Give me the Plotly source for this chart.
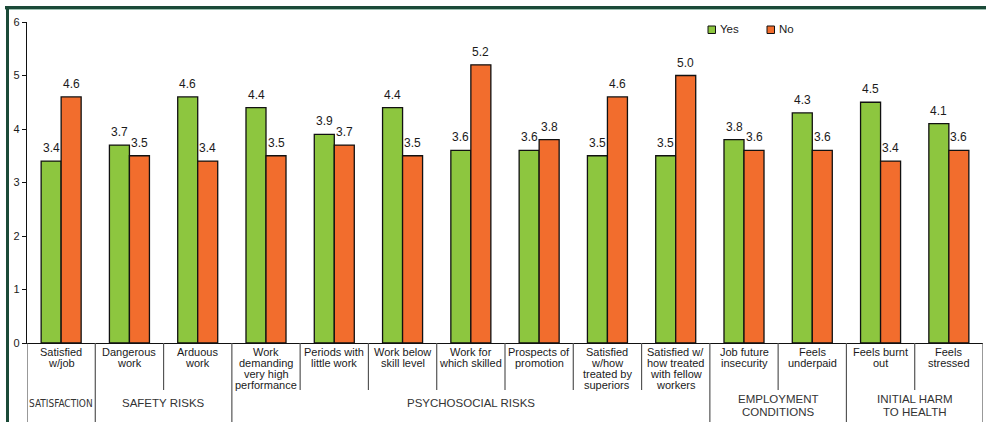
import plotly.graph_objects as go

# Category labels (one entry per line of text), scores and group headings
categories = [
    ["Satisfied", "w/job"],
    ["Dangerous", "work"],
    ["Arduous", "work"],
    ["Work", "demanding", "very high", "performance"],
    ["Periods with", "little work"],
    ["Work below", "skill level"],
    ["Work for", "which skilled"],
    ["Prospects of", "promotion"],
    ["Satisfied", "w/how", "treated by", "superiors"],
    ["Satisfied w/", "how treated", "with fellow", "workers"],
    ["Job future", "insecurity"],
    ["Feels", "underpaid"],
    ["Feels burnt", "out"],
    ["Feels", "stressed"],
]
yes_values = [3.4, 3.7, 4.6, 4.4, 3.9, 4.4, 3.6, 3.6, 3.5, 3.5, 3.8, 4.3, 4.5, 4.1]
no_values = [4.6, 3.5, 3.4, 3.5, 3.7, 3.5, 5.2, 3.8, 4.6, 5.0, 3.6, 3.6, 3.4, 3.6]
series_names = ["Yes", "No"]
group_names = [["SATISFACTION"], ["SAFETY RISKS"], ["PSYCHOSOCIAL RISKS"],
               ["EMPLOYMENT", "CONDITIONS"], ["INITIAL HARM", "TO HEALTH"]]
group_first = [0, 1, 3, 10, 12]
group_last = [0, 2, 9, 11, 13]
y_ticks = [0, 1, 2, 3, 4, 5, 6]

GREEN = "#8dc63f"
ORANGE = "#f26d2d"
TEXT = "#1a1a1a"
FONT = "Liberation Sans, Arial, sans-serif"

W, H = 986, 422
ML, MR, MT, MB = 27, 3, 22, 79
PW, PH = W - ML - MR, H - MT - MB


def px_x(p):
    return (p - ML) / PW


def px_y(p):
    return (H - MB - p) / PH


x = list(range(len(categories)))
colors = [GREEN, ORANGE]

fig = go.Figure()
for name, vals, col in zip(series_names, [yes_values, no_values], colors):
    fig.add_trace(go.Bar(x=x, y=vals, name=name, marker_color=col,
                         marker_line=dict(color="#111111", width=1.3)))

annotations = []
shapes = []

# value labels above each bar
for i in x:
    for vals, dx in ((yes_values, -10), (no_values, 10)):
        annotations.append(dict(x=i, y=vals[i], xref="x", yref="y", text=f"{vals[i]:.1f}",
                                showarrow=False, xshift=dx, yshift=13, yanchor="middle",
                                font=dict(size=12, color=TEXT, family=FONT)))

# category labels under the axis, one annotation per line for tight spacing
for i, lines in enumerate(categories):
    for k, line in enumerate(lines):
        annotations.append(dict(x=i, y=0, xref="x", yref="paper", text=line,
                                showarrow=False, yanchor="middle",
                                yshift=-(9 + 10.9 * k),
                                font=dict(size=11, color=TEXT, family=FONT)))

# group headings
for name, a, b in zip(group_names, group_first, group_last):
    center = (a + b) / 2
    starts = [-60] if len(name) == 1 else [-56, -69]
    narrow = name[0] == "SATISFACTION"
    for line, ys in zip(name, starts):
        annotations.append(dict(
            x=center, y=0, xref="x", yref="paper", text=line,
            showarrow=False, yanchor="middle", yshift=ys,
            font=dict(size=10 if narrow else 11.5, color="#333333",
                      family=("Liberation Sans Narrow, DejaVu Sans Condensed, " + FONT)
                      if narrow else FONT)))

# separators between categories below the axis
bottom_short = -(390 - 343) / PH
bottom_long = -(H - 343) / PH
group_edges = {-0.5, len(categories) - 0.5} | {b + 0.5 for b in group_last}
for k in range(len(categories) + 1):
    edge = k - 0.5
    shapes.append(dict(type="line", xref="x", yref="paper", x0=edge, x1=edge,
                       y0=0, y1=bottom_long if edge in group_edges else bottom_short,
                       line=dict(color="#555555", width=1.2)))

# legend: small outlined swatches with labels
legend_x = [708, 767]
for name, col, lx in zip(series_names, colors, legend_x):
    shapes.append(dict(type="rect", xref="paper", yref="paper",
                       x0=px_x(lx), x1=px_x(lx + 7.5), y0=px_y(33.5), y1=px_y(26),
                       fillcolor=col, line=dict(color="#111111", width=1)))
    annotations.append(dict(x=px_x(lx + 10), y=px_y(29.5), xref="paper", yref="paper",
                            text=name, showarrow=False, xanchor="left", yanchor="middle",
                            font=dict(size=11.5, color=TEXT, family=FONT)))

# dark green frame along the top and left
shapes.append(dict(type="line", xref="paper", yref="paper", x0=px_x(5), x1=px_x(W + 5),
                   y0=px_y(7.5), y1=px_y(7.5), line=dict(color="#1b4a38", width=3)))
shapes.append(dict(type="line", xref="paper", yref="paper", x0=px_x(5), x1=px_x(W + 5),
                   y0=px_y(9.5), y1=px_y(9.5), line=dict(color="#9cc0b0", width=1)))
shapes.append(dict(type="line", xref="paper", yref="paper", x0=px_x(7.5), x1=px_x(7.5),
                   y0=px_y(6), y1=px_y(H + 5), line=dict(color="#1b4a38", width=3)))

fig.update_layout(
    width=W, height=H,
    margin=dict(l=ML, r=MR, t=MT, b=MB),
    paper_bgcolor="white", plot_bgcolor="white",
    barmode="group", bargap=0.414, bargroupgap=0,
    font=dict(family=FONT, color=TEXT, size=11),
    showlegend=False,
    xaxis=dict(range=[-0.5, len(categories) - 0.5], showticklabels=False, ticks="",
               showgrid=False, zeroline=False, showline=True, linecolor="#111111",
               linewidth=1.2, fixedrange=True),
    yaxis=dict(range=[0, 6], tickvals=y_ticks, ticks="outside", ticklen=4, tickwidth=1,
               tickcolor="#111111", showline=True, linecolor="#111111", linewidth=1.2,
               showgrid=False, zeroline=False, tickfont=dict(size=11, color=TEXT, family=FONT),
               fixedrange=True),
    annotations=annotations,
    shapes=shapes,
)

fig.write_html("out.html")
